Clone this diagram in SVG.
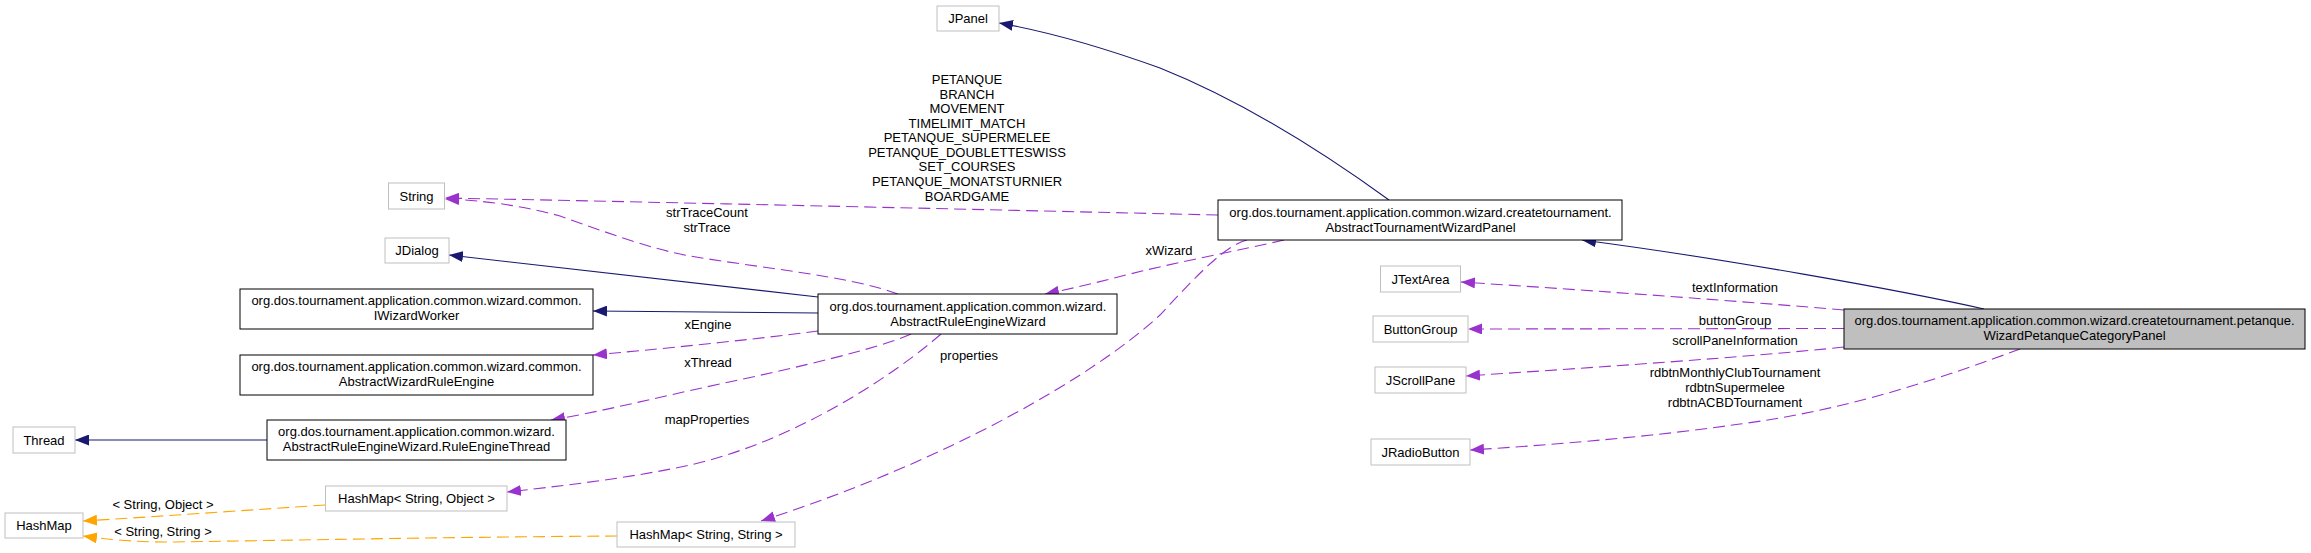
<svg xmlns="http://www.w3.org/2000/svg" width="2311" height="553" viewBox="0 0 2311 553">
<style>
text{font-family:"Liberation Sans",Arial,Helvetica,sans-serif;font-size:13px;fill:#000;text-anchor:middle}
.nd{fill:#fff;stroke:#000;stroke-width:1}
.ext{fill:#fff;stroke:#bfbfbf;stroke-width:1}
.main{fill:#bfbfbf;stroke:#000;stroke-width:1}
.inh{fill:none;stroke:#191970;stroke-width:1.1;marker-end:url(#ab)}
.use{fill:none;stroke:#9a32cd;stroke-width:1.1;stroke-dasharray:12,6;marker-end:url(#ap)}
.tpl{fill:none;stroke:#ffa500;stroke-width:1.1;stroke-dasharray:12,6;marker-end:url(#ao)}
</style>
<defs>
<marker id="ab" viewBox="0 0 14 11" refX="14" refY="5.5" markerWidth="14" markerHeight="11" markerUnits="userSpaceOnUse" orient="auto"><path d="M0,0 L14,5.5 L0,11 z" fill="#191970"/></marker>
<marker id="ap" viewBox="0 0 14 11" refX="14" refY="5.5" markerWidth="14" markerHeight="11" markerUnits="userSpaceOnUse" orient="auto"><path d="M0,0 L14,5.5 L0,11 z" fill="#9a32cd"/></marker>
<marker id="ao" viewBox="0 0 14 11" refX="14" refY="5.5" markerWidth="14" markerHeight="11" markerUnits="userSpaceOnUse" orient="auto"><path d="M0,0 L14,5.5 L0,11 z" fill="#ffa500"/></marker>
</defs>
<rect width="2311" height="553" fill="#fff"/>
<g id="connectors">
<path class="inh" d="M1389,200 C1320,150 1240,100 1160,68 C1110,50 1050,32 999,23"/>
<path class="inh" d="M1984,309 C1900,290 1720,258 1582,240"/>
<path class="inh" d="M818,297 L449,255"/>
<path class="inh" d="M818,313 L593,311"/>
<path class="inh" d="M267,440 L75,440"/>
<path class="use" d="M1218,215 C1000,210 700,203 445,198"/>
<path class="use" d="M898,294 C850,276 760,268 690,256 C650,249 600,230 560,216 C520,205 480,200 445,199"/>
<path class="use" d="M1284,240 C1240,250 1180,262 1142,271 C1110,279 1080,287 1045,294"/>
<path class="use" d="M1247,240 C1225,246 1200,272 1160,315 C1095,375 950,460 761,521"/>
<path class="use" d="M818,331 C750,340 650,350 593,355"/>
<path class="use" d="M911,334 C880,348 800,367 720,384 C650,399 600,412 551,420"/>
<path class="use" d="M941,334 C900,370 800,440 690,465 C640,476 580,484 507,492"/>
<path class="use" d="M1844,310 C1750,302 1600,291 1461,282"/>
<path class="use" d="M1844,328.5 L1468,329"/>
<path class="use" d="M1844,347 C1750,357 1600,367 1466,376"/>
<path class="use" d="M2020,349 C1950,375 1850,410 1740,424 C1650,437 1550,445 1470,450"/>
<path class="tpl" d="M325,505 C250,510 150,517 83,521"/>
<path class="tpl" d="M617,536 C450,537 250,541 170,542 C130,542 105,539 83,536"/>
<text x="967" y="84">PETANQUE</text>
<text x="967" y="98.5">BRANCH</text>
<text x="967" y="113">MOVEMENT</text>
<text x="967" y="127.5">TIMELIMIT_MATCH</text>
<text x="967" y="142">PETANQUE_SUPERMELEE</text>
<text x="967" y="156.5">PETANQUE_DOUBLETTESWISS</text>
<text x="967" y="171">SET_COURSES</text>
<text x="967" y="186">PETANQUE_MONATSTURNIER</text>
<text x="967" y="200.5">BOARDGAME</text>
<text x="707" y="216.5">strTraceCount</text>
<text x="707" y="232">strTrace</text>
<text x="1169" y="254.5">xWizard</text>
<text x="708" y="328.5">xEngine</text>
<text x="708" y="366.5">xThread</text>
<text x="707" y="423.5">mapProperties</text>
<text x="969" y="359.5">properties</text>
<text x="163" y="508.5">&lt; String, Object &gt;</text>
<text x="163" y="536">&lt; String, String &gt;</text>
<text x="1735" y="292">textInformation</text>
<text x="1735" y="325">buttonGroup</text>
<text x="1735" y="344.5">scrollPaneInformation</text>
<text x="1735" y="377">rdbtnMonthlyClubTournament</text>
<text x="1735" y="391.5">rdbtnSupermelee</text>
<text x="1735" y="406.5">rdbtnACBDTournament</text>
</g>
<g id="WizardPetanqueCategoryPanel"><rect class="main" x="1844" y="309" width="461" height="40"/><text x="2074.5" y="325">org.dos.tournament.application.common.wizard.createtournament.petanque.</text><text x="2074.5" y="340">WizardPetanqueCategoryPanel</text></g>
<g id="AbstractTournamentWizardPanel"><rect class="nd" x="1218" y="200" width="404" height="40"/><text x="1420.5" y="216.5">org.dos.tournament.application.common.wizard.createtournament.</text><text x="1420.5" y="231.5">AbstractTournamentWizardPanel</text></g>
<g id="JPanel"><rect class="ext" x="937" y="6" width="62" height="25"/><text x="968" y="23">JPanel</text></g>
<g id="String"><rect class="ext" x="388.5" y="183" width="56" height="26"/><text x="416.5" y="200.5">String</text></g>
<g id="JDialog"><rect class="ext" x="385" y="238" width="64" height="25"/><text x="417" y="255">JDialog</text></g>
<g id="AbstractRuleEngineWizard"><rect class="nd" x="818" y="294" width="299" height="40"/><text x="968" y="311">org.dos.tournament.application.common.wizard.</text><text x="968" y="325.5">AbstractRuleEngineWizard</text></g>
<g id="IWizardWorker"><rect class="nd" x="240" y="289" width="353" height="40"/><text x="416.5" y="305">org.dos.tournament.application.common.wizard.common.</text><text x="416.5" y="320">IWizardWorker</text></g>
<g id="AbstractWizardRuleEngine"><rect class="nd" x="240" y="355" width="353" height="40"/><text x="416.5" y="371">org.dos.tournament.application.common.wizard.common.</text><text x="416.5" y="385.5">AbstractWizardRuleEngine</text></g>
<g id="RuleEngineThread"><rect class="nd" x="267" y="420" width="299" height="40"/><text x="416.5" y="436">org.dos.tournament.application.common.wizard.</text><text x="416.5" y="451">AbstractRuleEngineWizard.RuleEngineThread</text></g>
<g id="Thread"><rect class="ext" x="13" y="427" width="62" height="26"/><text x="44" y="444.5">Thread</text></g>
<g id="HashMapStringObject"><rect class="ext" x="325.5" y="486" width="181.5" height="25"/><text x="416.5" y="503">HashMap&lt; String, Object &gt;</text></g>
<g id="HashMap"><rect class="ext" x="5" y="513" width="78" height="25"/><text x="44" y="530">HashMap</text></g>
<g id="HashMapStringString"><rect class="ext" x="617" y="522" width="178" height="25"/><text x="706" y="539">HashMap&lt; String, String &gt;</text></g>
<g id="JTextArea"><rect class="ext" x="1380.5" y="266" width="80" height="26"/><text x="1420.5" y="283.5">JTextArea</text></g>
<g id="ButtonGroup"><rect class="ext" x="1373" y="316" width="95" height="26"/><text x="1420.5" y="333.5">ButtonGroup</text></g>
<g id="JScrollPane"><rect class="ext" x="1375" y="367" width="91" height="26"/><text x="1420.5" y="384.5">JScrollPane</text></g>
<g id="JRadioButton"><rect class="ext" x="1371" y="439" width="99" height="26"/><text x="1420.5" y="456.5">JRadioButton</text></g>
</svg>
